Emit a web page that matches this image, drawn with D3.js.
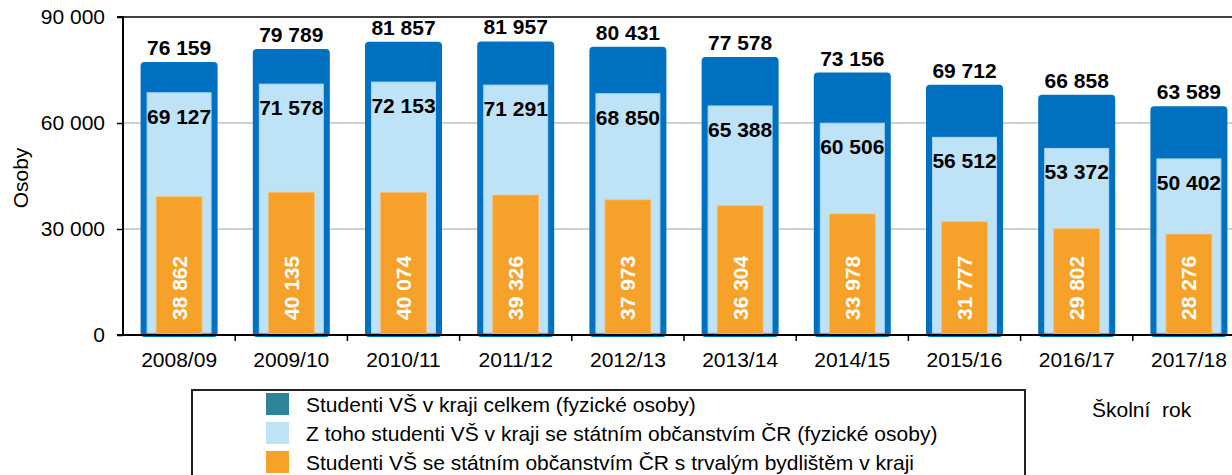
<!DOCTYPE html>
<html>
<head>
<meta charset="utf-8">
<script src="https://cdn.jsdelivr.net/npm/d3@7"></script>
<style>
  html, body { margin: 0; padding: 0; background: #fff; overflow: hidden; }
  svg { display: block; font-family: "Liberation Sans", Arial, sans-serif; }
</style>
</head>
<body>
<svg id="chart" width="1232" height="475"></svg>
<script>
const categories = ["2008/09", "2009/10", "2010/11", "2011/12", "2012/13", "2013/14", "2014/15", "2015/16", "2016/17", "2017/18"];
const totalValues = [76159, 79789, 81857, 81957, 80431, 77578, 73156, 69712, 66858, 63589];
const czValues = [69127, 71578, 72153, 71291, 68850, 65388, 60506, 56512, 53372, 50402];
const residentValues = [38862, 40135, 40074, 39326, 37973, 36304, 33978, 31777, 29802, 28276];
const yTicks = [0, 30000, 60000, 90000];
const seriesNames = [
  "Studenti VŠ v kraji celkem (fyzické osoby)",
  "Z toho studenti VŠ v kraji se státním občanstvím ČR (fyzické osoby)",
  "Studenti VŠ se státním občanstvím ČR s trvalým bydlištěm v kraji"
];
const yTitle = "Osoby";
const xTitle = "Školní  rok";

(function () {
const colors = { total: "#0070C0", cz: "#BFE3F6", res: "#F6A22A", legendTotal: "#2E8599" };

const fmt = d3.formatLocale({ decimal: ",", thousands: " ", grouping: [3], currency: ["", ""] }).format(",d");

const svg = d3.select("#chart");
const pL = 123, pR = 1245, pT = 17, pB = 335;

const x = d3.scaleBand().domain(categories).range([pL, pR]).padding(0);
const y = d3.scaleLinear().domain([0, 90000]).range([pB, pT]);
const bw = x.bandwidth();
const cx = d => x(d) + bw / 2;

// gridlines
svg.append("g").selectAll("line").data(yTicks.filter(t => t > 0 && t < 90000)).join("line")
  .attr("x1", pL).attr("x2", 1232).attr("y1", d => y(d)).attr("y2", d => y(d))
  .attr("stroke", "#C0C0C0").attr("stroke-width", 1.5);
// top border
svg.append("line").attr("x1", pL).attr("x2", 1232).attr("y1", y(90000)).attr("y2", y(90000))
  .attr("stroke", "#000").attr("stroke-width", 1.5);

// dark total bars
svg.append("g").selectAll("rect").data(categories).join("rect")
  .attr("x", d => cx(d) - 38.5)
  .attr("width", 77)
  .attr("y", (d, i) => y(totalValues[i]) - 4)
  .attr("height", (d, i) => y(0) + 2 - (y(totalValues[i]) - 4))
  .attr("rx", 4)
  .attr("fill", colors.total);

// light CZ bars
svg.append("g").selectAll("rect").data(categories).join("rect")
  .attr("x", d => cx(d) - 32)
  .attr("width", 64)
  .attr("y", (d, i) => y(czValues[i]) + 2)
  .attr("height", (d, i) => y(0) - 2 - (y(czValues[i]) + 2))
  .attr("fill", colors.cz)
  .attr("stroke", "#A8D6F2").attr("stroke-width", 1);

// orange resident bars
svg.append("g").selectAll("rect").data(categories).join("rect")
  .attr("x", d => cx(d) - 23)
  .attr("width", 46)
  .attr("y", (d, i) => y(residentValues[i]) - 1)
  .attr("height", (d, i) => y(0) - 1 - (y(residentValues[i]) - 1))
  .attr("fill", colors.res)
  .attr("stroke", "#F7C07A").attr("stroke-width", 0.8);

// axes
const yAxis = d3.axisLeft(y).tickValues(yTicks).tickSize(6).tickFormat(fmt);
const gy = svg.append("g").attr("transform", `translate(${pL},0)`).call(yAxis);
gy.select(".domain").attr("stroke", "#000").attr("stroke-width", 2).attr("d", `M-6,${pT}H0V${pB}H-6`);
gy.selectAll(".tick line").attr("stroke", "#000").attr("stroke-width", 1.5);
gy.selectAll(".tick text").attr("font-size", 21).attr("fill", "#000").attr("x", -18)
  .attr("font-family", "'Liberation Sans', Arial, sans-serif");

const xAxis = d3.axisBottom(x).tickSize(0).tickPadding(10);
const gx = svg.append("g").attr("transform", `translate(0,${pB})`).call(xAxis);
gx.select(".domain").attr("stroke", "#000").attr("stroke-width", 2).attr("d", `M${pL},0H1232`);
gx.selectAll(".tick text").attr("font-size", 21).attr("fill", "#000").attr("dy", "1.05em")
  .attr("font-family", "'Liberation Sans', Arial, sans-serif");
// category boundary ticks
svg.append("g").selectAll("line").data(categories.slice(1)).join("line")
  .attr("x1", d => x(d)).attr("x2", d => x(d))
  .attr("y1", pB).attr("y2", pB + 6)
  .attr("stroke", "#000").attr("stroke-width", 1.5);

// value labels
svg.append("g").selectAll("text").data(categories).join("text")
  .attr("x", d => cx(d)).attr("y", (d, i) => y(totalValues[i]) - 11)
  .attr("text-anchor", "middle").attr("font-size", 21).attr("font-weight", "bold").attr("fill", "#000")
  .text((d, i) => fmt(totalValues[i]));

svg.append("g").selectAll("text").data(categories).join("text")
  .attr("x", d => cx(d)).attr("y", (d, i) => y(czValues[i]) + 33)
  .attr("text-anchor", "middle").attr("font-size", 21).attr("font-weight", "bold").attr("fill", "#000")
  .text((d, i) => fmt(czValues[i]));

svg.append("g").selectAll("text").data(categories).join("text")
  .attr("transform", d => `translate(${cx(d)},${y(0) - 15}) rotate(-90)`)
  .attr("dy", "0.36em")
  .attr("text-anchor", "start").attr("font-size", 21).attr("font-weight", "bold").attr("fill", "#fff")
  .text((d, i) => fmt(residentValues[i]));

// axis titles
svg.append("text").attr("transform", "translate(28,178) rotate(-90)")
  .attr("text-anchor", "middle").attr("font-size", 21).attr("fill", "#000").text(yTitle);
svg.append("text").attr("x", 1092).attr("y", 417).attr("font-size", 21).attr("fill", "#000")
  .style("white-space", "pre").text(xTitle);

// legend
svg.append("rect").attr("x", 192).attr("y", 390).attr("width", 833).attr("height", 100)
  .attr("fill", "#fff").attr("stroke", "#222").attr("stroke-width", 2);
const legendColors = [colors.legendTotal, colors.cz, colors.res];
const lg = svg.append("g").selectAll("g").data(seriesNames).join("g")
  .attr("transform", (d, i) => `translate(266,${393 + i * 29})`);
lg.append("rect").attr("width", 23).attr("height", 22).attr("fill", (d, i) => legendColors[i]);
lg.append("text").attr("x", 40).attr("y", 19).attr("font-size", 21).attr("fill", "#000").text(d => d);
})();
</script>
</body>
</html>
